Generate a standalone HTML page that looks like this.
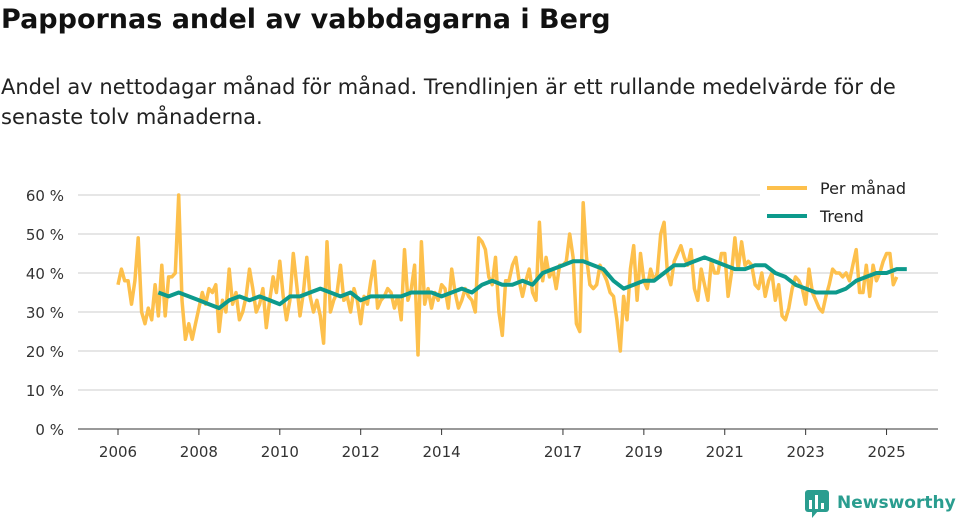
<!DOCTYPE html>
<html><head><meta charset="utf-8"><style>
body{margin:0;width:960px;height:520px;background:#fff;font-family:"DejaVu Sans","Liberation Sans",sans-serif;overflow:hidden;position:relative}
h1{position:absolute;left:1px;top:4px;margin:0;font-size:27px;font-weight:bold;color:#111;white-space:nowrap}
p{position:absolute;left:1px;top:72px;margin:0;font-size:21px;line-height:30px;color:#222;width:958px;white-space:nowrap}
</style></head><body>
<h1>Pappornas andel av vabbdagarna i Berg</h1>
<p>Andel av nettodagar månad för månad. Trendlinjen är ett rullande medelvärde för de<br>senaste tolv månaderna.</p>
<svg id="c" width="960" height="520" style="position:absolute;left:0;top:0"></svg>
<script>
const yTicks=[0,10,20,30,40,50,60];
const xYears=[2006,2008,2010,2012,2014,2017,2019,2021,2023,2025];
const monthly=[37,41,38,38,32,38,49,30,27,31,28,37,
29,42,29,39,39,40,60,33,23,27,23,27,
31,35,32,36,35,37,25,33,30,41,32,35,
28,30,34,41,36,30,32,36,26,33,39,35,
43,34,28,33,45,37,29,35,44,34,30,33,
29,22,48,30,33,35,42,33,34,30,36,33,
27,34,32,38,43,31,33,34,36,35,31,34,
28,46,33,36,42,19,48,32,36,31,35,33,
37,36,31,41,35,31,33,36,34,33,30,49,
48,46,39,37,44,30,24,38,38,42,44,38,
34,38,41,35,33,53,38,44,39,41,36,42,
42,43,50,44,27,25,58,44,37,36,37,42,
40,38,35,34,28,20,34,28,41,47,33,45,
38,36,41,38,40,50,53,40,37,43,45,47,
44,42,46,36,33,41,37,33,43,40,40,45,
45,34,40,49,41,48,42,43,42,37,36,40,
34,38,40,33,37,29,28,31,36,39,38,36,
32,41,35,33,31,30,34,37,41,40,40,39,
40,38,42,46,35,35,42,34,42,38,40,43,
45,45,37,39];
const trend=[35,34,35,34,33,32,31,33,34,33,34,33,32,34,34,35,36,35,34,35,33,34,34,34,34,35,35,35,34,35,36,35,37,38,37,37,38,37,40,41,42,43,43,42,41,38,36,37,38,38,40,42,42,43,44,43,42,41,41,42,42,40,39,37,36,35,35,35,36,38,39,40,40,41,41];
const NS='http://www.w3.org/2000/svg',svg=document.getElementById('c');
const X=t=>118+(t-2006)*40.45, Y=v=>429-v*3.9;
function mk(tag,at,parent){const e=document.createElementNS(NS,tag);for(const k in at)e.setAttribute(k,at[k]);(parent||svg).appendChild(e);return e;}
yTicks.forEach(v=>{
 const l=mk('line',{x1:78,x2:938,y1:Y(v),y2:Y(v),stroke:v===0?'#333':'#ddd','stroke-width':v===0?1:1.5});
 
 
 const t=mk('text',{x:64,y:Y(v)+6,'text-anchor':'end','font-size':15,fill:'#333'});t.textContent=v+' %';
 
 
});
xYears.forEach(yr=>{
 const l=mk('line',{x1:X(yr),x2:X(yr),y1:429,y2:435,stroke:'#333'});
 
 
 const t=mk('text',{x:X(yr),y:457,'text-anchor':'middle','font-size':15,fill:'#333'});t.textContent=yr;
 
 
});
const mp=monthly.map((v,i)=>X(2006+i/12).toFixed(1)+','+Y(v).toFixed(1)).join(' ');
const pm=mk('polyline',{points:mp,fill:'none',stroke:'#fdc04c','stroke-width':3.5,'stroke-linejoin':'round'});


const tp=trend.map((v,i)=>X(2007+i*0.25).toFixed(1)+','+Y(v).toFixed(1)).join(' ');
const tr=mk('polyline',{points:tp,fill:'none',stroke:'#0d9a8c','stroke-width':4,'stroke-linejoin':'round'});


const lg=mk('g',{});


mk('rect',{x:760,y:174,width:180,height:58,fill:'#fff'},lg);
mk('line',{x1:767,x2:807,y1:188,y2:188,stroke:'#fdc04c','stroke-width':4},lg);
mk('line',{x1:767,x2:807,y1:216,y2:216,stroke:'#0d9a8c','stroke-width':4},lg);
let t1=mk('text',{x:820,y:194,'font-size':16,fill:'#222'},lg);t1.textContent='Per månad';
let t2=mk('text',{x:820,y:222,'font-size':16,fill:'#222'},lg);t2.textContent='Trend';
const logo=mk('g',{});


mk('rect',{x:805,y:490,width:24,height:22,rx:3,fill:'#2a9d8f'},logo);
mk('polygon',{points:'812,511 818,511 812,518',fill:'#2a9d8f'},logo);
[[809,500,4,9],[815,495,4,14],[821,503,4,6]].forEach(r=>mk('rect',{x:r[0],y:r[1],width:3,height:r[3],fill:'#fff'},logo));
let lt=mk('text',{x:837,y:508,'font-size':17,'font-weight':'bold',fill:'#2a9d8f'},logo);lt.textContent='Newsworthy';
</script>
</body></html>
